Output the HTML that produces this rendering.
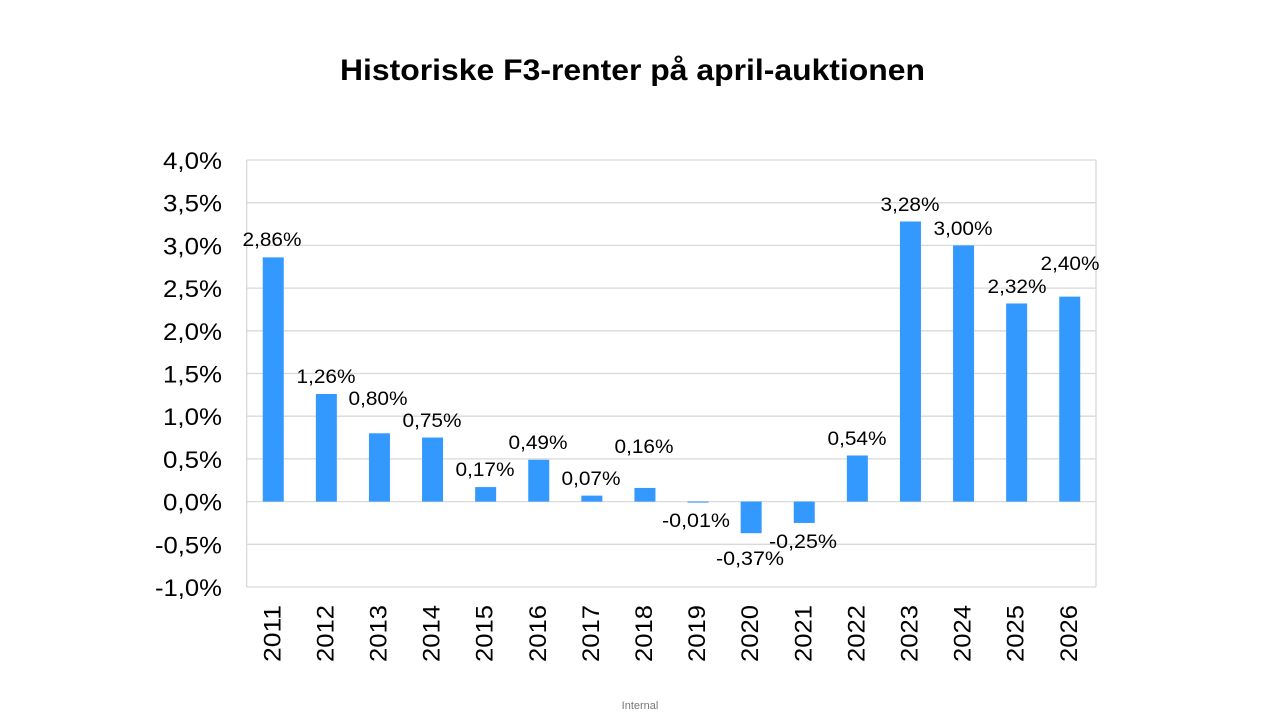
<!DOCTYPE html>
<html><head><meta charset="utf-8"><style>
body{margin:0;background:#fff;}
svg{display:block;font-family:"Liberation Sans",Arial,sans-serif;}
</style></head><body>
<svg width="1280" height="720" xmlns="http://www.w3.org/2000/svg">
<text x="340" y="80" font-size="30" font-weight="bold" fill="#000" textLength="585" lengthAdjust="spacingAndGlyphs">Historiske F3-renter på april-auktionen</text>
<g stroke="#d9d9d9" stroke-width="1.3">
<line x1="246.7" x2="1096" y1="160" y2="160"/>
<line x1="246.7" x2="1096" y1="202.7" y2="202.7"/>
<line x1="246.7" x2="1096" y1="245.4" y2="245.4"/>
<line x1="246.7" x2="1096" y1="288.1" y2="288.1"/>
<line x1="246.7" x2="1096" y1="330.8" y2="330.8"/>
<line x1="246.7" x2="1096" y1="373.5" y2="373.5"/>
<line x1="246.7" x2="1096" y1="416.2" y2="416.2"/>
<line x1="246.7" x2="1096" y1="458.9" y2="458.9"/>
<line x1="246.7" x2="1096" y1="501.6" y2="501.6"/>
<line x1="246.7" x2="1096" y1="544.3" y2="544.3"/>
<line x1="246.7" x2="1096" y1="587" y2="587"/>
<line x1="246.7" x2="246.7" y1="160" y2="587"/>
<line x1="1096" x2="1096" y1="160" y2="587"/>
</g>
<g font-size="24.5" fill="#000" id="yl"></g>
<g fill="#3399ff" id="bars"></g>
<g font-size="19" fill="#000" id="labels"></g>
<g font-size="24.5" fill="#000" id="xl"></g>
<text x="640" y="709" text-anchor="middle" font-size="11" fill="#777">Internal</text>
<script>
var ns="http://www.w3.org/2000/svg";
function T(p,s,x,y,w,tr){var t=document.createElementNS(ns,"text");if(tr)t.setAttribute("transform",tr);else{t.setAttribute("x",x);t.setAttribute("y",y);}
t.setAttribute("textLength",w);t.setAttribute("lengthAdjust","spacingAndGlyphs");t.textContent=s;p.appendChild(t);}
var yl=document.getElementById("yl");
var ys=["4,0%","3,5%","3,0%","2,5%","2,0%","1,5%","1,0%","0,5%","0,0%","-0,5%","-1,0%"];
for(var k=0;k<11;k++){var w=ys[k][0]=="-"?67:59;T(yl,ys[k],222-w,169+42.7*k,w);}
var v=[2.86,1.26,0.80,0.75,0.17,0.49,0.07,0.16,-0.01,-0.37,-0.25,0.54,3.28,3.00,2.32,2.40];
var lp=[[272,239],[326,376],[378,398],[432,420],[485,469],[538,442],[591,478],[644,446],[696,520],[750,558],[803,541],[857,438],[910,204],[963,228],[1017,286],[1070,263]];
var b=document.getElementById("bars"),l=document.getElementById("labels"),x=document.getElementById("xl");
for(var i=0;i<16;i++){var c=246.7+53.1*(i+0.5),z=501.6,y=z-v[i]*85.4;
var r=document.createElementNS(ns,"rect");r.setAttribute("x",c-10.5);r.setAttribute("width",21);
r.setAttribute("y",Math.min(y,z));r.setAttribute("height",Math.max(Math.abs(z-y),1));b.appendChild(r);
var s=v[i].toFixed(2).replace(".",",")+"%",w=v[i]<0?68:59;
T(l,s,lp[i][0]-w/2,lp[i][1]+7,w);
T(x,String(2011+i),0,0,57,"translate("+(c+7)+",662) rotate(-90)");}
</script>
</svg>
</body></html>
